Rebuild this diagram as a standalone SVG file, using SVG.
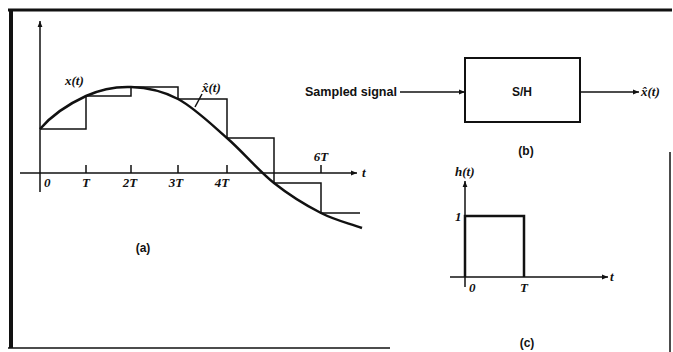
<svg xmlns="http://www.w3.org/2000/svg" width="673" height="352" viewBox="0 0 673 352">
<style>
.ln{fill:none;stroke:#111;stroke-width:1.5}
.thk{fill:none;stroke:#111;stroke-width:2.5}
.mi{font-family:"Liberation Serif",serif;font-style:italic;font-weight:bold;font-size:13px;fill:#111}
.sb{font-family:"Liberation Sans",sans-serif;font-weight:bold;font-size:12px;fill:#111}
</style>
<defs>
<marker id="ah" viewBox="0 0 10 10" refX="10" refY="5" markerWidth="8" markerHeight="6" markerUnits="userSpaceOnUse" orient="auto">
<path d="M0,1 L10,5 L0,9 Z" fill="#111"/>
</marker>
</defs>
<rect width="673" height="352" fill="#fff"/>
<g id="frame">
<path d="M8,10 H672" stroke="#111" stroke-width="3" fill="none"/>
<path d="M11,10 V348" stroke="#111" stroke-width="4" fill="none"/>
<path d="M8,348 H390" stroke="#111" stroke-width="1.5" fill="none"/>
<path d="M670,152 V352" stroke="#111" stroke-width="1.5" fill="none"/>
</g>
<g id="graph-a">
<path class="ln" d="M40,192 V21" marker-end="url(#ah)"/>
<path class="ln" d="M20,173 H357" marker-end="url(#ah)"/>
<path class="ln" d="M86,173 V165 M131,173 V165 M178,173 V165 M227,173 V165 M321,173 V165"/>
<path class="ln" d="M40,129 H86 V96 H131 V87 H178 V99 H227 V138 H274 V183 H321 V213 H360"/>
<path class="thk" d="M40,129 C52,115 70.8,103 86,96 C101.2,89 115.7,86.5 131,87 C146.3,87.5 162,90.5 178,99 C194,107.5 211,124 227,138 C243,152 258.3,170.5 274,183 C289.7,195.5 306.3,205.5 321,213 C335.7,220.5 348.3,223 362,228"/>
<path class="ln" d="M202,94 L195,107" stroke-width="1.2"/>
<text class="mi" x="65" y="85">x(t)</text>
<text class="mi" x="202" y="92">x̂(t)</text>
<text class="mi" x="362" y="177">t</text>
<text class="mi" x="44" y="187">0</text>
<text class="mi" x="86" y="187" text-anchor="middle">T</text>
<text class="mi" x="130" y="187" text-anchor="middle">2T</text>
<text class="mi" x="176" y="187" text-anchor="middle">3T</text>
<text class="mi" x="222" y="187" text-anchor="middle">4T</text>
<text class="mi" x="321" y="161" text-anchor="middle">6T</text>
<text class="sb" x="143" y="252" text-anchor="middle">(a)</text>
</g>
<g id="node-sh">
<rect x="465" y="58" width="115" height="64" fill="none" stroke="#111" stroke-width="2"/>
<text class="sb" x="522" y="96" text-anchor="middle" font-size="13">S/H</text>
</g>
<g id="label-input">
<text class="sb" x="305" y="96" textLength="92" lengthAdjust="spacingAndGlyphs">Sampled signal</text>
</g>
<g id="label-output">
<text class="mi" x="641" y="96">x̂(t)</text>
</g>
<g id="connectors">
<path class="ln" d="M400,92 H465" marker-end="url(#ah)"/>
<path class="ln" d="M580,92 H639" marker-end="url(#ah)"/>
</g>
<text class="sb" x="526" y="155" text-anchor="middle">(b)</text>
<g id="graph-c">
<path class="ln" d="M465,287 V181" marker-end="url(#ah)"/>
<path class="ln" d="M450,277 H608" marker-end="url(#ah)"/>
<path class="thk" d="M465,277 V216 H524 V277"/>
<text class="mi" x="455" y="176">h(t)</text>
<text class="mi" x="455" y="221">1</text>
<text class="mi" x="469" y="292">0</text>
<text class="mi" x="524" y="292" text-anchor="middle">T</text>
<text class="mi" x="610" y="281">t</text>
<text class="sb" x="527" y="347" text-anchor="middle">(c)</text>
</g>
</svg>
